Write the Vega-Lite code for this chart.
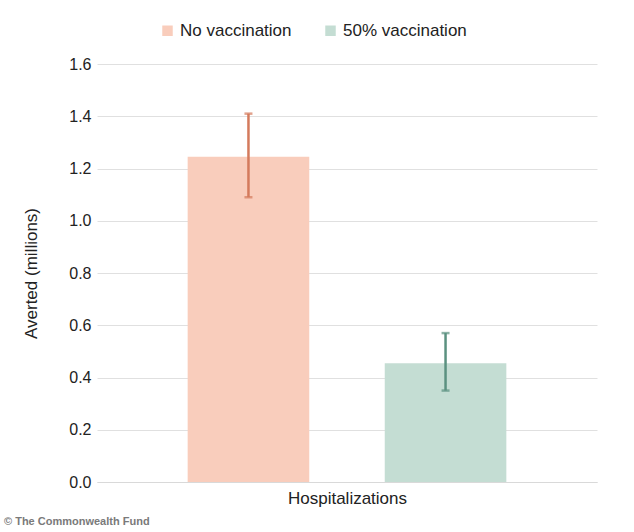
{
  "$schema": "https://vega.github.io/schema/vega-lite/v6.json",
  "width": 500,
  "height": 418,
  "autosize": {"type": "none"},
  "padding": {"left": 97, "top": 64, "right": 37, "bottom": 50},
  "background": "white",
  "config": {
    "font": "Liberation Sans",
    "view": {"stroke": null}
  },
  "title": {
    "text": "© The Commonwealth Fund",
    "orient": "bottom",
    "anchor": "start",
    "frame": "group",
    "dx": -93,
    "offset": 10,
    "fontSize": 11,
    "fontWeight": "bold",
    "color": "#7a7a7a"
  },
  "data": {
    "values": [
      {"scenario": "No vaccination", "category": "Hospitalizations", "value": 1.245, "lo": 1.09, "hi": 1.41},
      {"scenario": "50% vaccination", "category": "Hospitalizations", "value": 0.455, "lo": 0.35, "hi": 0.57}
    ]
  },
  "encoding": {
    "x": {
      "field": "scenario",
      "type": "nominal",
      "sort": ["No vaccination", "50% vaccination"],
      "scale": {"paddingInner": 0.383, "paddingOuter": 0.46},
      "axis": {
        "title": "Hospitalizations",
        "labels": false,
        "ticks": false,
        "domainColor": "#d9d9d9",
        "titleFontSize": 17,
        "titleFontWeight": "normal",
        "titleColor": "#222222",
        "titlePadding": 8
      }
    }
  },
  "layer": [
    {
      "mark": {"type": "bar"},
      "encoding": {
        "y": {
          "field": "value",
          "type": "quantitative",
          "scale": {"domain": [0, 1.6]},
          "axis": {
            "title": "Averted (millions)",
            "values": [0, 0.2, 0.4, 0.6, 0.8, 1.0, 1.2, 1.4, 1.6],
            "format": ".1f",
            "domain": false,
            "ticks": false,
            "gridColor": "#e0e0e0",
            "labelFontSize": 16,
            "labelColor": "#222222",
            "labelPadding": 6,
            "titleFontSize": 17,
            "titleFontWeight": "normal",
            "titleColor": "#222222",
            "titlePadding": 28
          }
        },
        "color": {
          "field": "scenario",
          "type": "nominal",
          "sort": ["No vaccination", "50% vaccination"],
          "scale": {"domain": ["No vaccination", "50% vaccination"], "range": ["#f9cdbc", "#c4ddd3"]},
          "legend": {
            "title": null,
            "orient": "none",
            "legendX": 62,
            "legendY": -42,
            "direction": "horizontal",
            "symbolType": "square",
            "symbolSize": 110,
            "symbolStrokeWidth": 0,
            "labelFontSize": 17,
            "labelColor": "#222222",
            "columnPadding": 30
          }
        }
      }
    },
    {
      "mark": {"type": "errorbar", "ticks": {"size": 8, "thickness": 2.5}, "thickness": 2.5},
      "encoding": {
        "y": {"field": "lo", "type": "quantitative", "title": "Averted (millions)"},
        "y2": {"field": "hi"},
        "color": {
          "field": "scenario",
          "type": "nominal",
          "scale": {"domain": ["No vaccination", "50% vaccination"], "range": ["#d47a5c", "#5b9180"]},
          "legend": null
        }
      }
    }
  ],
  "resolve": {"scale": {"color": "independent"}}
}
